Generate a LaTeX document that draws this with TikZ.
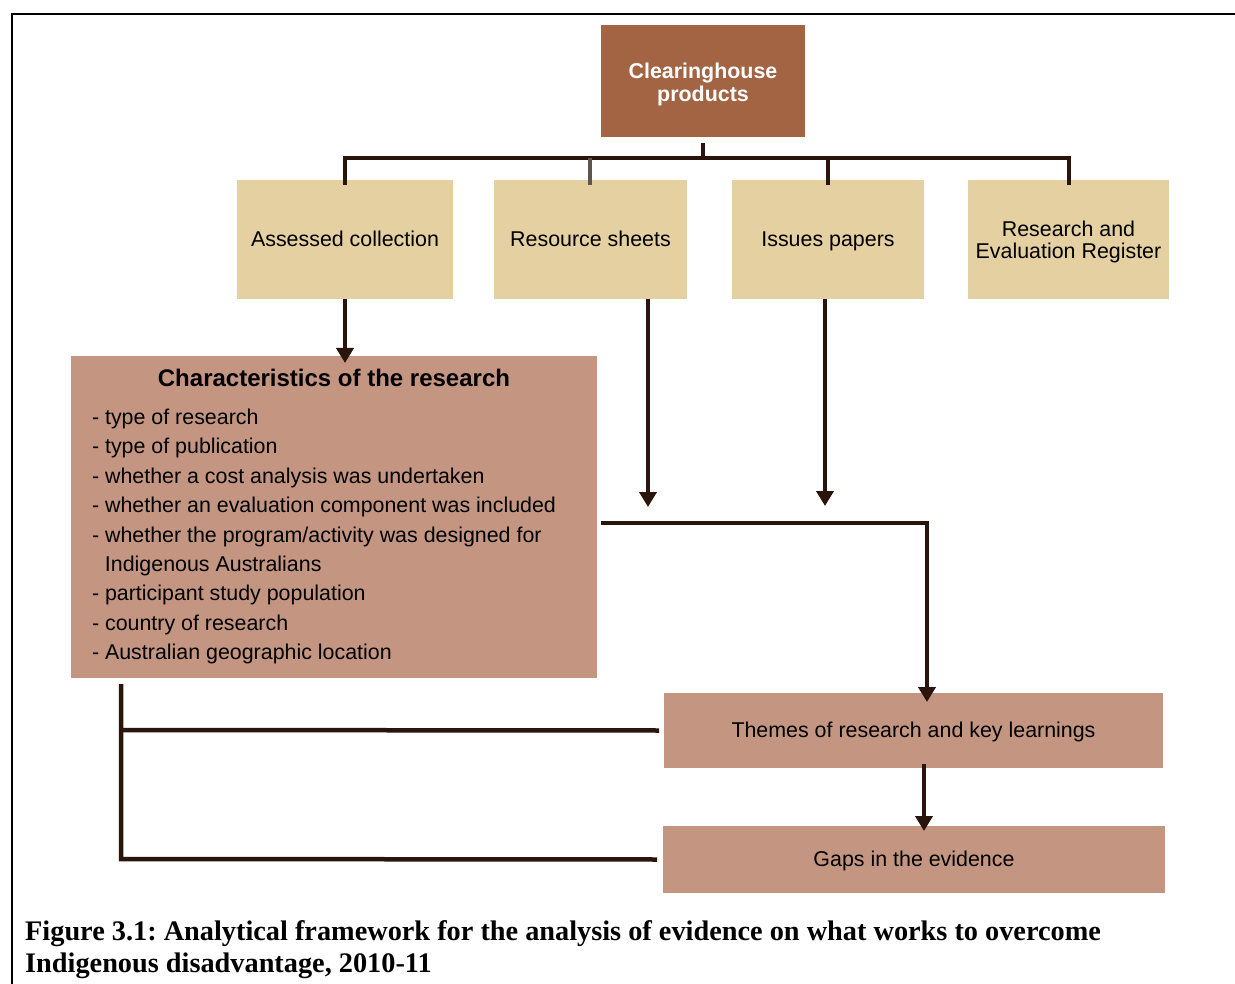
\documentclass[tikz,border=0pt]{standalone}
\usepackage{fontspec}
\setmainfont{Liberation Sans}
\newfontfamily\capfont{Liberation Serif}
\usetikzlibrary{arrows.meta}
\definecolor{topbrown}{RGB}{163,100,67}
\definecolor{tanbox}{RGB}{228,208,160}
\definecolor{rosebox}{RGB}{196,150,130}
\definecolor{linedark}{RGB}{42,21,12}
\definecolor{linegray}{RGB}{95,85,80}
\tikzset{
  box/.style={inner sep=0pt, outer sep=0pt, align=center, font=\fontsize{21.4}{22}\selectfont},
  oneline/.style={text height=16.5pt, text depth=2.5pt},
  conn/.style={draw=linedark, line width=4.5pt},
  arr/.style={conn, -{Triangle[width=17pt,length=15pt]}},
}
\begin{document}
\frenchspacing
\begin{tikzpicture}[x=1pt,y=-1pt]
\useasboundingbox (0,0) rectangle (1235,984);
% frame
\draw[line width=2pt] (12,984) -- (12,14) -- (1235,14);
% boxes
\node[box, fill=topbrown, minimum width=204pt, minimum height=112pt] (top) at (703,81) {};
\node[box, text=white, font=\bfseries\fontsize{21.4}{23}\selectfont] (toptext) at (703,84) {Clearinghouse\\products};
\node[box, oneline, fill=tanbox, minimum width=216pt, minimum height=119pt] (ac) at (345,239.5) {Assessed collection};
\node[box, oneline, fill=tanbox, minimum width=193pt, minimum height=119pt] (rs) at (590.5,239.5) {Resource sheets};
\node[box, oneline, fill=tanbox, minimum width=192pt, minimum height=119pt] (ip) at (828,239.5) {Issues papers};
\node[box, fill=tanbox, minimum width=201pt, minimum height=119pt] (re) at (1068.5,239.5) {};
\node[box, font=\fontsize{21.4}{22}\selectfont] (retext) at (1068.5,242) {Research and\\Evaluation Register};
\node[box, fill=rosebox, minimum width=526pt, minimum height=322pt] (ch) at (334,517) {};
\node[box, anchor=base, font=\bfseries\fontsize{24}{24}\selectfont] (cht) at (334,387) {Characteristics of the research};
\node[box, anchor=base west, align=left, font=\fontsize{21.4}{29.4}\selectfont] (chl) at (92,659.7)
  {- type of research\\
   - type of publication\\
   - whether a cost analysis was undertaken\\
   - whether an evaluation component was included\\
   - whether the program/activity was designed for\\
   \hspace*{13pt}Indigenous Australians\\
   - participant study population\\
   - country of research\\
   - Australian geographic location};
\node[box, oneline, fill=rosebox, minimum width=499pt, minimum height=75pt] (th) at (913.5,730.5) {Themes of research and key learnings};
\node[box, oneline, fill=rosebox, minimum width=502pt, minimum height=67pt] (gp) at (914,859.5) {Gaps in the evidence};
% tree bus
\coordinate (bus) at (703,158);
\draw[conn] ([yshift=-6pt]top.south) -- (bus);
\draw[conn] (345,158) -- (1069,158);
\draw[conn] (345,156) -- ([yshift=-5pt]ac.north);
\draw[conn, draw=linegray, line width=3.5pt] (590,158) -- ([yshift=-5pt]rs.north -| 590,0);
\draw[conn] (828,156) -- ([yshift=-5pt]ip.north);
\draw[conn] (1069,156) -- ([yshift=-5pt]re.north -| 1069,0);
% arrows
\draw[arr] (ac.south) -- ([yshift=-7pt]ch.north -| ac.south);
\coordinate (rsend) at (648,507);
\coordinate (ipend) at (825,506);
\draw[arr] (rs.south -| rsend) -- (rsend);
\draw[arr] (ip.south -| ipend) -- (ipend);
\coordinate (jn) at (601,523);
\coordinate (corner) at (927,523);
\draw[arr] (jn) -- (corner) -- ([yshift=-9pt]th.north -| corner);
\draw[arr] ([yshift=4pt]th.south -| 924,0) -- ([yshift=-5pt]gp.north -| 924,0);
% left connectors
\coordinate (lt) at (121,684);
\coordinate (lb) at (121,859);
\draw[conn] (lt) -- (lb) -- ([xshift=-6pt]gp.west);
\draw[conn] (121,730) -- ([xshift=-5pt]th.west);
% caption
\node[anchor=base west, align=left, inner sep=0pt,
      font=\capfont\bfseries\fontsize{28.3}{32}\selectfont] (cap) at (25,972)
  {Figure 3.1: Analytical framework for the analysis of evidence on what works to overcome\\
   Indigenous disadvantage, 2010-11};
\end{tikzpicture}
\end{document}
